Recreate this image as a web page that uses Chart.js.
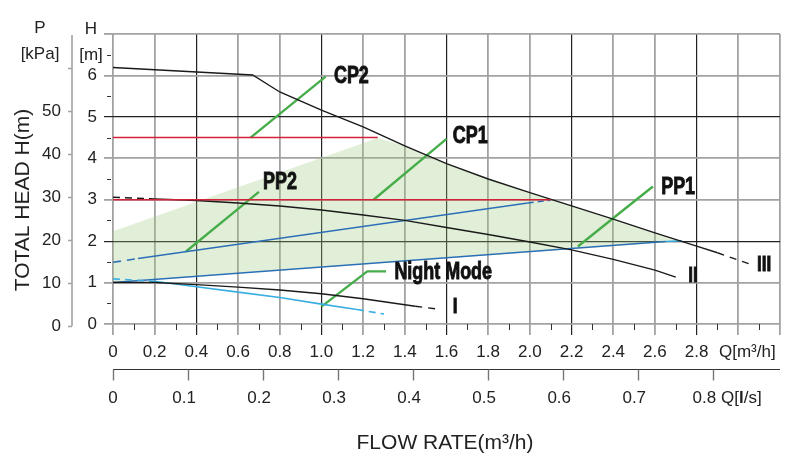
<!DOCTYPE html>
<html>
<head>
<meta charset="utf-8">
<script src="https://cdn.jsdelivr.net/npm/chart.js@4.4.0/dist/chart.umd.min.js"></script>
<style>
body { margin: 0; background: #fff; }
canvas { display: block; }
</style>
</head>
<body>
<canvas id="myChart" width="799" height="470"></canvas>
<script>
// pump curves, points are [Q m3/h, H m]
const curveI = [[0, 1.0], [0.2, 1.0], [0.4, 0.95], [0.6, 0.89], [0.8, 0.82], [1.0, 0.73], [1.2, 0.61], [1.45, 0.43]];
const curveIEnd = [[1.45, 0.43], [1.57, 0.35]];

const curveIIStart = [[0, 3.06], [0.2, 3.02]];
const curveII = [[0.2, 3.02], [0.4, 2.98], [0.6, 2.92], [0.8, 2.85], [1.0, 2.75], [1.2, 2.63], [1.4, 2.5], [1.6, 2.33],
                 [1.8, 2.16], [2.0, 1.98], [2.2, 1.79], [2.4, 1.56], [2.6, 1.3], [2.7, 1.13]];

const curveIII = [[0, 6.19], [0.67, 6.01], [0.8, 5.6], [1.0, 5.16], [1.2, 4.76], [1.4, 4.3], [1.6, 3.87], [1.8, 3.5],
                  [2.0, 3.17], [2.2, 2.85], [2.4, 2.53], [2.6, 2.2], [2.8, 1.88], [2.9, 1.72]];
const curveIIIEnd = [[2.9, 1.72], [3.07, 1.42]];

const nightStart = [[0, 1.09], [0.2, 1.03]];
const nightMode = [[0.2, 1.03], [0.4, 0.9], [0.6, 0.77], [0.8, 0.64], [1.0, 0.48], [1.17, 0.35]];
const nightEnd = [[1.17, 0.35], [1.3, 0.24]];

const pp1 = [[0, 1.0], [2.65, 1.99]];
const pp1End = [[2.65, 1.99], [2.73, 2.01]];
const pp2Start = [[0, 1.49], [0.12, 1.58]];
const pp2 = [[0.12, 1.58], [1.99, 2.92]];
const pp2End = [[1.99, 2.92], [2.1, 2.99]];

const cp1 = [[0, 3.0], [2.1, 3.0]];
const cp2 = [[0, 4.5], [1.27, 4.5]];

// control range area
const controlArea = [[0, 2.24], [1.27, 4.49], [1.4, 4.3], [1.6, 3.87], [1.8, 3.5], [2.0, 3.17], [2.2, 2.85],
                     [2.4, 2.53], [2.6, 2.2], [2.73, 2.0], [0, 1.0]];

// leader lines to the mode names
const leaderCP2 = [[0.66, 4.5], [1.02, 5.97]];
const leaderCP1 = [[1.25, 3.0], [1.6, 4.47]];
const leaderPP2 = [[0.35, 1.75], [0.7, 3.19]];
const leaderPP1 = [[2.23, 1.87], [2.59, 3.32]];
const leaderNight = [[1.0, 0.42], [1.22, 1.27], [1.31, 1.27]];

const modeNames = ['CP2', 'CP1', 'PP2', 'PP1', 'Night Mode'];
const modeAnchors = [[1.06, 5.99], [1.63, 4.55], [0.72, 3.44], [2.63, 3.31], [1.35, 1.26]];
const speedNames = ['I', 'II', 'III'];
const speedAnchors = [[1.63, 0.43], [2.76, 1.18], [3.09, 1.45]];

// axes
const flowLabels = ['0', '0.2', '0.4', '0.6', '0.8', '1.0', '1.2', '1.4', '1.6', '1.8', '2.0', '2.2', '2.4', '2.6', '2.8'];
const headLabels = ['0', '1', '2', '3', '4', '5', '6'];
const pressureTicks = [0, 10, 20, 30, 40, 50, 60];
const pressureLabels = ['0', '10', '20', '30', '40', '50', ''];
const litreTicks = [0, 0.1, 0.2, 0.3, 0.4, 0.5, 0.6, 0.7, 0.8];
const litreLabels = ['0', '0.1', '0.2', '0.3', '0.4', '0.5', '0.6', '0.7', '0.8'];

const darkFlowLines = [4, 10, 16, 22, 28];   // in tenths of m3/h
const darkHeadLines = [2, 5];

const FONT = '"Liberation Sans", Arial, sans-serif';
const GRAY = '#a2a2a2';
const DARK = '#222';

const pts = arr => arr.map(p => ({x: p[0], y: p[1]}));

const line = (arr, color, width, dash) => ({
    data: pts(arr),
    borderColor: color,
    borderWidth: width,
    borderDash: dash || [],
    pointRadius: 0,
    fill: false,
    tension: 0
});

const kpaToHead = p => p / 9.63 - 0.04;

// heavy condensed text, squeezed Liberation Sans bold
const narrowText = (ctx, text, px, py, size) => {
    ctx.save();
    ctx.translate(px, py);
    ctx.scale(0.78, 1);
    ctx.font = 'bold ' + size + 'px ' + FONT;
    ctx.lineWidth = 0.9;
    ctx.strokeStyle = '#111';
    ctx.strokeText(text, 0, 0);
    ctx.fillText(text, 0, 0);
    ctx.restore();
};

const extras = {
    id: 'extras',
    afterDraw(chart) {
        const ctx = chart.ctx;
        const x = chart.scales.x;
        const y = chart.scales.y;
        ctx.save();

        // minor ticks
        ctx.strokeStyle = '#333';
        ctx.lineWidth = 1;
        ctx.beginPath();
        for (let k = 1; k < 32; k += 2) {
            const px = Math.round(x.getPixelForValue(k / 10)) + 0.5;
            ctx.moveTo(px, y.bottom);
            ctx.lineTo(px, y.bottom + 6);
        }
        for (let k = 1; k < 14; k += 2) {
            const py = Math.round(y.getPixelForValue(k / 2)) + 0.5;
            ctx.moveTo(x.left - 6, py);
            ctx.lineTo(x.left - 2, py);
        }
        ctx.stroke();

        // pressure axis
        const px0 = 72;
        ctx.strokeStyle = GRAY;
        ctx.lineWidth = 1.6;
        ctx.beginPath();
        ctx.moveTo(px0, y.top + 1);
        ctx.lineTo(px0, y.getPixelForValue(kpaToHead(0)) + 0.5);
        pressureTicks.forEach(p => {
            const py = Math.round(y.getPixelForValue(kpaToHead(p))) + 0.5;
            ctx.moveTo(px0 - 4, py);
            ctx.lineTo(px0, py);
        });
        ctx.stroke();
        ctx.fillStyle = DARK;
        ctx.font = '17px ' + FONT;
        ctx.textAlign = 'right';
        ctx.textBaseline = 'middle';
        pressureTicks.forEach((p, i) => {
            ctx.fillText(pressureLabels[i], 61, y.getPixelForValue(kpaToHead(p)) + 1);
        });

        // l/s axis
        const ly = 369.5;
        ctx.strokeStyle = '#333';
        ctx.lineWidth = 1.2;
        ctx.beginPath();
        ctx.moveTo(x.left, ly);
        ctx.lineTo(x.right, ly);
        ctx.stroke();
        ctx.strokeStyle = '#777';
        ctx.lineWidth = 1.4;
        ctx.beginPath();
        litreTicks.forEach(v => {
            const px = Math.round(x.getPixelForValue(v * 3.6)) + 0.5;
            ctx.moveTo(px, ly);
            ctx.lineTo(px, ly + 11);
        });
        ctx.stroke();
        ctx.textAlign = 'center';
        litreTicks.forEach((v, i) => {
            const shift = i === 0 ? 0 : (i === litreTicks.length - 1 ? -9 : -4);
            ctx.fillText(litreLabels[i], x.getPixelForValue(v * 3.6) + shift, 398);
        });

        // axis names
        ctx.font = '17px ' + FONT;
        ctx.fillText('P', 40, 28);
        ctx.fillText('[kPa]', 40, 54);
        ctx.fillText('H', 91, 29);
        ctx.fillText('[m]', 91, 55);
        ctx.textAlign = 'left';
        ctx.fillText('Q[m³/h]', 719, 352);
        ctx.fillText('Q[', 721, 398);
        let w = ctx.measureText('Q[').width;
        ctx.font = 'bold 17px ' + FONT;
        ctx.fillText('l', 721 + w, 398);
        w += ctx.measureText('l').width;
        ctx.font = '17px ' + FONT;
        ctx.fillText('/s]', 721 + w, 398);

        ctx.font = '21px ' + FONT;
        ctx.textAlign = 'center';
        ctx.fillText('FLOW RATE(m³/h)', 445, 443);
        ctx.save();
        ctx.translate(23, 200);
        ctx.rotate(-Math.PI / 2);
        ctx.fillText('TOTAL HEAD H(m)', 0, 0);
        ctx.restore();

        // mode and speed names
        ctx.fillStyle = '#111';
        ctx.textAlign = 'left';
        modeNames.forEach((t, i) => {
            narrowText(ctx, t, x.getPixelForValue(modeAnchors[i][0]), y.getPixelForValue(modeAnchors[i][1]) + 1, 23);
        });
        speedNames.forEach((t, i) => {
            narrowText(ctx, t, x.getPixelForValue(speedAnchors[i][0]), y.getPixelForValue(speedAnchors[i][1]) + 1, 22);
        });
        ctx.restore();
    }
};

const RED = '#d3223a';
const BLUE = '#2b70b7';
const CYAN = '#3aaee2';
const BLACK = '#1a1a1a';
const GREEN = '#47ad4a';

const fillSet = {
    data: pts(controlArea),
    borderWidth: 0,
    borderColor: 'rgba(0,0,0,0)',
    backgroundColor: 'rgba(160,202,125,0.3)',
    pointRadius: 0,
    fill: 'shape',
    tension: 0,
    order: 5
};

myChart = new Chart(document.getElementById('myChart').getContext('2d'), {
    type: 'line',
    data: {
        datasets: [
            fillSet,
            line(cp2, RED, 1.6),
            line(cp1, RED, 1.6),
            line(curveI, BLACK, 1.4),
            line(curveIEnd, BLACK, 1.4, [7, 6]),
            line(curveIIStart, BLACK, 1.4, [7, 5]),
            line(curveII, BLACK, 1.4),
            line(curveIII, BLACK, 1.4),
            line(curveIIIEnd, BLACK, 1.4, [7, 6]),
            line(nightStart, CYAN, 1.6, [7, 5]),
            line(nightMode, CYAN, 1.6),
            line(nightEnd, CYAN, 1.6, [7, 5]),
            line(pp1, BLUE, 1.6),
            line(pp1End, CYAN, 1.6),
            line(pp2Start, BLUE, 1.6, [8, 6]),
            line(pp2, BLUE, 1.6),
            line(pp2End, BLUE, 1.6, [6, 4]),
            line(leaderCP2, GREEN, 2.4),
            line(leaderCP1, GREEN, 2.4),
            line(leaderPP2, GREEN, 2.4),
            line(leaderPP1, GREEN, 2.4),
            line(leaderNight, GREEN, 2.4)
        ]
    },
    options: {
        responsive: false,
        animation: false,
        layout: { padding: { top: 34, right: 19, left: 0, bottom: 0 } },
        plugins: { legend: { display: false }, tooltip: { enabled: false } },
        scales: {
            x: {
                type: 'linear',
                min: 0,
                max: 3.2,
                afterFit: s => { s.height = 146; },
                border: { display: false },
                grid: {
                    tickLength: 11,
                    color: c => {
                        const k = Math.round(c.tick.value * 10);
                        if (k % 2) return 'rgba(0,0,0,0)';
                        return darkFlowLines.includes(k) ? DARK : GRAY;
                    },
                    lineWidth: c => darkFlowLines.includes(Math.round(c.tick.value * 10)) ? 1.2 : 1.8
                },
                ticks: {
                    stepSize: 0.1,
                    autoSkip: false,
                    maxRotation: 0,
                    padding: 7,
                    color: DARK,
                    font: { family: FONT, size: 17 },
                    callback: v => {
                        const k = Math.round(v * 10);
                        if (k % 2) return '';
                        return flowLabels[k / 2] || '';
                    }
                }
            },
            y: {
                type: 'linear',
                min: 0,
                max: 7,
                afterFit: s => { s.width = 113; },
                border: { display: false },
                grid: {
                    tickLength: 9,
                    color: c => {
                        const k = Math.round(c.tick.value * 2);
                        if (k % 2) return 'rgba(0,0,0,0)';
                        return darkHeadLines.includes(k / 2) ? DARK : GRAY;
                    },
                    lineWidth: c => darkHeadLines.includes(Math.round(c.tick.value * 2) / 2) ? 1.2 : 1.8
                },
                ticks: {
                    stepSize: 0.5,
                    autoSkip: false,
                    padding: 7,
                    color: DARK,
                    font: { family: FONT, size: 17 },
                    callback: v => {
                        const k = Math.round(v * 2);
                        if (k % 2) return '';
                        return headLabels[k / 2] || '';
                    }
                }
            }
        }
    },
    plugins: [extras]
});
</script>
</body>
</html>
